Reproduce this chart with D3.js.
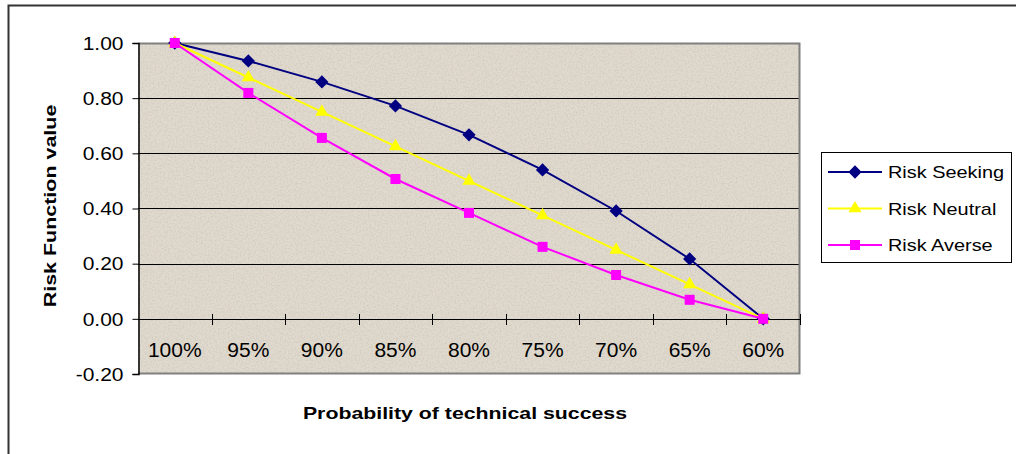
<!DOCTYPE html>
<html>
<head>
<meta charset="utf-8">
<script src="https://cdn.jsdelivr.net/npm/d3@7/dist/d3.min.js"></script>
<style>
  html, body { margin: 0; padding: 0; background: #fff; }
  svg { display: block; font-family: Arial, "Liberation Sans", sans-serif; }
</style>
</head>
<body>
<svg id="chart" width="1016" height="454"></svg>
<script>
// Probability of technical success (categories along the x axis)
const categories = ["100%", "95%", "90%", "85%", "80%", "75%", "70%", "65%", "60%"];

// Risk function values per attitude
const riskSeeking = [1.00, 0.935, 0.859, 0.772, 0.667, 0.540, 0.391, 0.217, 0.00];
const riskNeutral = [1.00, 0.875, 0.750, 0.625, 0.500, 0.375, 0.250, 0.125, 0.00];
const riskAverse  = [1.00, 0.819, 0.656, 0.507, 0.384, 0.261, 0.159, 0.069, 0.00];

const seriesNames = ["Risk Seeking", "Risk Neutral", "Risk Averse"];
const yTicks = [-0.2, 0, 0.2, 0.4, 0.6, 0.8, 1.0];

const series = [
  { name: seriesNames[0], values: riskSeeking, color: "#000080", symbol: d3.symbolSquare,   size: 88, rotate: 45 },
  { name: seriesNames[1], values: riskNeutral, color: "#ffff00", symbol: d3.symbolTriangle, size: 75, rotate: 0 },
  { name: seriesNames[2], values: riskAverse,  color: "#ff00ff", symbol: d3.symbolSquare,   size: 100, rotate: 0 }
];

const svg = d3.select("#chart");

// Stretch a text element horizontally along its run by a factor
function stretch(sel, factor) {
  sel.each(function () {
    const len = this.getComputedTextLength();
    d3.select(this).attr("textLength", len * factor).attr("lengthAdjust", "spacingAndGlyphs");
  });
}

// Outer chart frame (runs off the right and bottom edges)
svg.append("rect")
  .attr("x", 8.5).attr("y", 5.5)
  .attr("width", 1030).attr("height", 470)
  .attr("fill", "#fff").attr("stroke", "#333").attr("stroke-width", 2);

const plot = { left: 138, right: 800, top: 43, bottom: 374 };

const x = d3.scaleBand().domain(categories).range([plot.left, plot.right]).padding(0);
const y = d3.scaleLinear().domain([-0.2, 1.0]).range([plot.bottom, plot.top]);

// Parchment-like speckled texture for the plot area
const defs = svg.append("defs");
const f = defs.append("filter").attr("id", "speckle").attr("x", 0).attr("y", 0).attr("width", 1).attr("height", 1);
f.append("feTurbulence").attr("type", "fractalNoise").attr("baseFrequency", 0.6).attr("numOctaves", 2).attr("seed", 7).attr("result", "noise");
f.append("feColorMatrix").attr("in", "noise").attr("type", "matrix")
  .attr("values", "0 0 0 0 0.45  0 0 0 0 0.42  0 0 0 0 0.38  0 0 0 -3 1.75")
  .attr("result", "specks");
f.append("feComposite").attr("in", "specks").attr("in2", "SourceGraphic").attr("operator", "in");

svg.append("rect")
  .attr("x", plot.left).attr("y", plot.top)
  .attr("width", plot.right - plot.left).attr("height", plot.bottom - plot.top)
  .attr("fill", "#e0d9cd");
svg.append("rect")
  .attr("x", plot.left).attr("y", plot.top)
  .attr("width", plot.right - plot.left).attr("height", plot.bottom - plot.top)
  .attr("fill", "#e0d9cd").attr("filter", "url(#speckle)").attr("opacity", 0.25);

// Horizontal gridlines
svg.append("g")
  .selectAll("line")
  .data(yTicks.filter(v => v > 0 && v < 1))
  .join("line")
  .attr("x1", plot.left).attr("x2", plot.right)
  .attr("y1", d => Math.round(y(d)) + 0.5).attr("y2", d => Math.round(y(d)) + 0.5)
  .attr("stroke", "#000").attr("stroke-width", 1);

// Plot area border (top, right, bottom)
svg.append("path")
  .attr("d", `M${plot.left},${plot.top + 0.5}H${plot.right - 0.5}V${plot.bottom - 0.5}H${plot.left}`)
  .attr("fill", "none").attr("stroke", "#808080").attr("stroke-width", 2);

// Y axis
const fmt = d3.format(".2f");
const yAxis = svg.append("g")
  .attr("transform", `translate(${plot.left + 0.5},0)`)
  .call(d3.axisLeft(y).tickValues(yTicks).tickFormat(d => fmt(d).replace("\u2212", "-")).tickSize(6).tickPadding(9));
yAxis.select(".domain").attr("stroke", "#000").attr("stroke-width", 1.5);
yAxis.selectAll(".tick line").attr("stroke", "#000");
yAxis.selectAll(".tick text")
  .attr("font-size", 17.5).attr("fill", "#000").attr("font-family", "Arial, 'Liberation Sans', sans-serif")
  .attr("dy", "0.36em")
  .call(stretch, 1.2);

// X axis along zero, tick marks at category boundaries crossing the line
const y0 = Math.round(y(0)) + 0.5;
const xAxis = svg.append("g");
xAxis.append("line")
  .attr("x1", plot.left).attr("x2", plot.right)
  .attr("y1", y0).attr("y2", y0)
  .attr("stroke", "#000").attr("stroke-width", 1.2);
const boundaries = categories.slice(1).map(c => x(c)).concat([x.range()[1]]);
xAxis.selectAll("line.tick")
  .data(boundaries)
  .join("line").attr("class", "tick")
  .attr("x1", d => Math.round(d) + 0.5).attr("x2", d => Math.round(d) + 0.5)
  .attr("y1", y0 - 5.5).attr("y2", y0 + 5.5)
  .attr("stroke", "#000");
xAxis.selectAll("text")
  .data(categories)
  .join("text")
  .attr("x", d => x(d) + x.bandwidth() / 2)
  .attr("y", 357)
  .attr("text-anchor", "middle")
  .attr("font-size", 20)
  .attr("fill", "#000")
  .text(d => d)
  .call(stretch, 1.05);

// Series lines and markers
const line = d3.line()
  .x((d, i) => x(categories[i]) + x.bandwidth() / 2)
  .y(d => y(d));

series.forEach(s => {
  const g = svg.append("g");
  g.append("path")
    .datum(s.values)
    .attr("d", line)
    .attr("fill", "none")
    .attr("stroke", s.color)
    .attr("stroke-width", 2);
  g.selectAll("path.marker")
    .data(s.values)
    .join("path").attr("class", "marker")
    .attr("transform", (d, i) => `translate(${x(categories[i]) + x.bandwidth() / 2},${y(d)}) rotate(${s.rotate})`)
    .attr("d", d3.symbol(s.symbol, s.size))
    .attr("fill", s.color);
});

// Axis titles
svg.append("text")
  .attr("x", 465).attr("y", 419)
  .attr("text-anchor", "middle")
  .attr("font-size", 16.5).attr("font-weight", "bold").attr("fill", "#000")
  .text("Probability of technical success")
  .call(stretch, 1.29);

svg.append("text")
  .attr("transform", "translate(56,206) rotate(-90)")
  .attr("text-anchor", "middle")
  .attr("font-size", 16.5).attr("font-weight", "bold").attr("fill", "#000")
  .text("Risk Function value")
  .call(stretch, 1.3);

// Legend
const legend = svg.append("g");
legend.append("rect")
  .attr("x", 821.5).attr("y", 152.5).attr("width", 190).attr("height", 110)
  .attr("fill", "#fff").attr("stroke", "#000").attr("stroke-width", 1);
const rowY = [172, 208.5, 245];
series.forEach((s, i) => {
  const row = legend.append("g").attr("transform", `translate(0,${rowY[i]})`);
  row.append("line").attr("x1", 828).attr("x2", 882).attr("y1", 0).attr("y2", 0)
    .attr("stroke", s.color).attr("stroke-width", 2);
  row.append("path").attr("transform", `translate(855,0) rotate(${s.rotate})`)
    .attr("d", d3.symbol(s.symbol, s.size)).attr("fill", s.color);
  row.append("text").attr("x", 888).attr("y", 0).attr("dy", "0.36em")
    .attr("font-size", 17).attr("fill", "#000")
    .text(s.name)
    .call(stretch, 1.17);
});
</script>
</body>
</html>
